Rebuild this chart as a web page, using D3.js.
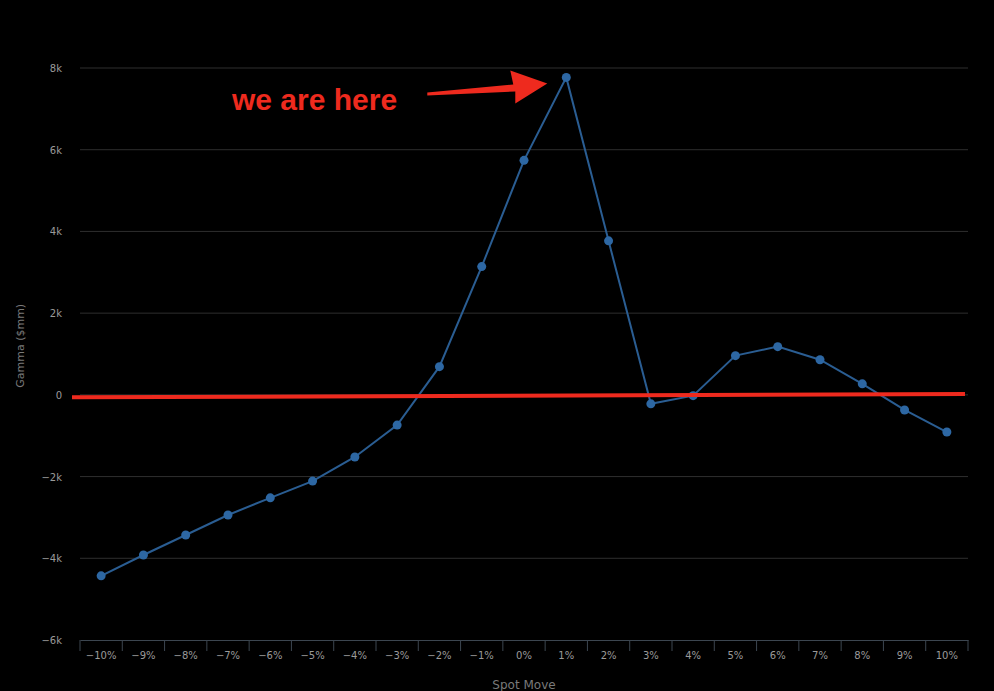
<!DOCTYPE html>
<html>
<head>
<meta charset="utf-8">
<script src="https://cdn.jsdelivr.net/npm/d3@7"></script>
<style>
  html, body { margin: 0; padding: 0; background: #000; }
  svg { display: block; }
</style>
</head>
<body>
<svg width="994" height="691"></svg>
<script>
// chart data
const spotMoves = ["-10%","-9%","-8%","-7%","-6%","-5%","-4%","-3%","-2%","-1%","0%",
                   "1%","2%","3%","4%","5%","6%","7%","8%","9%","10%"];
const gamma = [-4430,-3920,-3430,-2940,-2520,-2110,-1520,-740,690,3140,5740,
               7770,3770,-220,-20,960,1180,860,270,-370,-910];
const yTicks = [-6000,-4000,-2000,0,2000,4000,6000,8000];
const herePoint = "1%";

const width = 994, height = 691;
const margin = { top: 68, right: 26, bottom: 51, left: 80 };

const svg = d3.select("svg");

const x = d3.scaleBand()
  .domain(spotMoves)
  .range([margin.left, width - margin.right]);

const y = d3.scaleLinear()
  .domain([-6000, 8000])
  .range([height - margin.bottom, margin.top]);

const fmt = d => d === 0 ? "0" : (d / 1000) + "k";

// gridlines
svg.append("g")
  .selectAll("line")
  .data(yTicks.filter(d => d !== -6000))
  .join("line")
    .attr("x1", margin.left)
    .attr("x2", width - margin.right)
    .attr("y1", d => y(d))
    .attr("y2", d => y(d))
    .attr("stroke", "#2e2e2e")
    .attr("stroke-width", 1);

// y axis labels
svg.append("g")
  .attr("font-family", "DejaVu Sans, sans-serif")
  .attr("font-size", 10)
  .attr("fill", "#9a9a9a")
  .selectAll("text")
  .data(yTicks)
  .join("text")
    .attr("x", 62)
    .attr("y", d => y(d) + 4)
    .attr("text-anchor", "end")
    .text(d => d < 0 ? "\u2212" + fmt(-d) : fmt(d));

svg.append("text")
  .attr("transform", `translate(24,${y(1200)}) rotate(-90)`)
  .attr("text-anchor", "middle")
  .attr("font-family", "DejaVu Sans, sans-serif")
  .attr("font-size", 11)
  .attr("fill", "#7a7a7a")
  .text("Gamma ($mm)");

// x axis
const xAxis = svg.append("g")
  .attr("transform", `translate(0,${y(-6000)})`)
  .call(d3.axisBottom(x).tickSize(0).tickPadding(12)
    .tickFormat(d => d.replace("-", "\u2212")));
xAxis.select(".domain").attr("stroke", "#3c4650");
xAxis.selectAll("text")
  .attr("font-family", "DejaVu Sans, sans-serif")
  .attr("font-size", 10)
  .attr("fill", "#9a9a9a");

// separators between categories
svg.append("g")
  .selectAll("line")
  .data(spotMoves.concat(["end"]))
  .join("line")
    .attr("x1", (d, i) => margin.left + i * x.bandwidth())
    .attr("x2", (d, i) => margin.left + i * x.bandwidth())
    .attr("y1", y(-6000))
    .attr("y2", y(-6000) + 11)
    .attr("stroke", "#3c4650");

svg.append("text")
  .attr("x", x("0%") + x.bandwidth() / 2)
  .attr("y", 689)
  .attr("text-anchor", "middle")
  .attr("font-family", "DejaVu Sans, sans-serif")
  .attr("font-size", 12)
  .attr("fill", "#7a7a7a")
  .text("Spot Move");

// series
const pts = spotMoves.map((m, i) => ({ m, v: gamma[i] }));
const cx = d => x(d.m) + x.bandwidth() / 2;

svg.append("path")
  .datum(pts)
  .attr("fill", "none")
  .attr("stroke", "#2a5d92")
  .attr("stroke-width", 2)
  .attr("d", d3.line().x(cx).y(d => y(d.v)));

svg.append("g")
  .selectAll("circle")
  .data(pts)
  .join("circle")
    .attr("cx", cx)
    .attr("cy", d => y(d.v))
    .attr("r", 4.5)
    .attr("fill", "#2d67a3");

// red zero line (annotation)
svg.append("line")
  .attr("x1", 72)
  .attr("x2", 965)
  .attr("y1", y(-60))
  .attr("y2", y(20))
  .attr("stroke", "#ee2a1e")
  .attr("stroke-width", 4);

// "we are here" annotation
svg.append("text")
  .attr("x", 232)
  .attr("y", 110)
  .attr("font-family", "Liberation Sans, Arial, sans-serif")
  .attr("font-weight", "bold")
  .attr("font-size", 30)
  .attr("fill", "#ee2a1e")
  .text("we are here");

// tapered arrow pointing at the current point
const hp = pts.find(d => d.m === herePoint);
const px = cx(hp), py = y(hp.v);
const arrow = [
  [px - 139, py + 15], [px - 53, py + 7], [px - 56, py - 7],
  [px - 19, py + 6],
  [px - 51, py + 26], [px - 51, py + 14], [px - 139, py + 18]
];
svg.append("path")
  .attr("d", d3.line()(arrow) + "Z")
  .attr("fill", "#ee2a1e");
</script>
</body>
</html>
